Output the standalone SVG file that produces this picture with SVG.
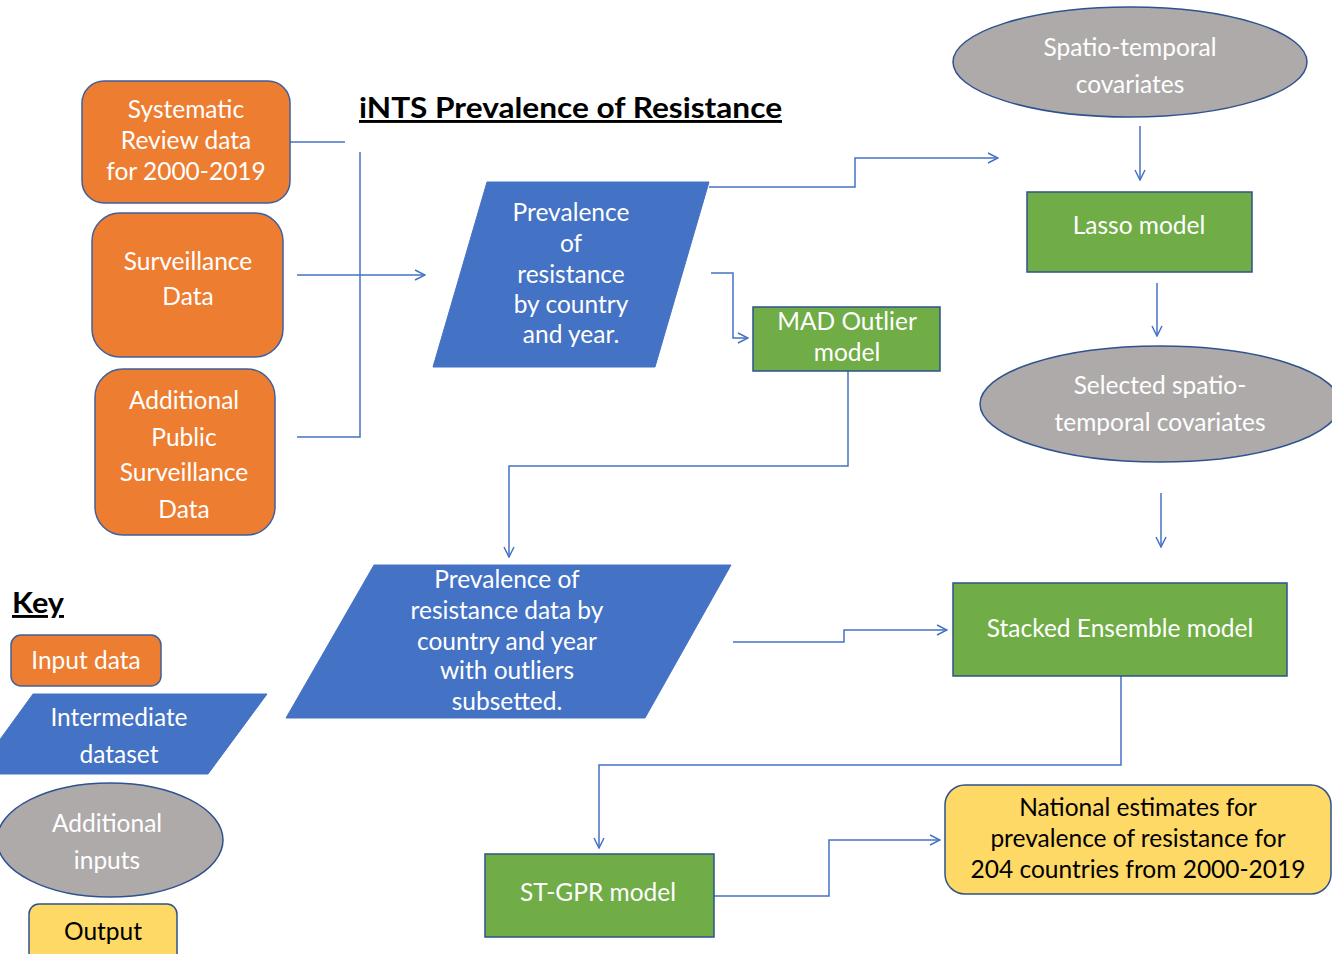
<svg xmlns="http://www.w3.org/2000/svg" width="1332" height="954" viewBox="0 0 1332 954">
<style>
text{font-family:Lato,"Open Sans","Liberation Sans",sans-serif;font-size:24.5px;text-anchor:middle;fill:#fff}
.dark{fill:#000}
.orange{fill:#ED7D31;stroke:#3F5F9F;stroke-width:1.5}
.blue{fill:#4472C4;stroke:#4472C4;stroke-width:1}
.green{fill:#70AD47;stroke:#2F528F;stroke-width:1.5}
.grey{fill:#AEAAAA;stroke:#2F528F;stroke-width:1.5}
.yellow{fill:#FFD966;stroke:#2F528F;stroke-width:1.5}
.c{fill:none;stroke:#4472C4;stroke-width:1.5}
.head{font-weight:bold;font-size:29px;text-anchor:start;fill:#000;text-decoration:underline}
</style>
<defs>
<marker id="arr" viewBox="0 0 12 12" refX="11" refY="6" markerWidth="12" markerHeight="12" markerUnits="userSpaceOnUse" orient="auto">
<path d="M1,1 L11,6 L1,11" fill="none" stroke="#4472C4" stroke-width="1.5"/>
</marker>
</defs>
<rect width="1332" height="954" fill="#fff"/>
<text class="head" x="359" y="118" textLength="423" lengthAdjust="spacingAndGlyphs">iNTS Prevalence of Resistance</text>
<text class="head" x="12" y="613" textLength="52" lengthAdjust="spacingAndGlyphs">Key</text>
<g id="connectors">
<path class="c" d="M290,142 H345"/>
<path class="c" d="M360,152 V437 H297"/>
<path class="c" d="M297,275 H425" marker-end="url(#arr)"/>
<path class="c" d="M709,187 H855 V158 H998" marker-end="url(#arr)"/>
<path class="c" d="M711,273 H733 V338 H748" marker-end="url(#arr)"/>
<path class="c" d="M848,371 V466 H509 V557" marker-end="url(#arr)"/>
<path class="c" d="M1140,126 V180" marker-end="url(#arr)"/>
<path class="c" d="M1157,283 V336" marker-end="url(#arr)"/>
<path class="c" d="M1161,493 V547" marker-end="url(#arr)"/>
<path class="c" d="M733,642 H844 V630 H947" marker-end="url(#arr)"/>
<path class="c" d="M1121,676 V765 H599 V848" marker-end="url(#arr)"/>
<path class="c" d="M714,896 H829 V840 H940" marker-end="url(#arr)"/>
</g>
<g id="systematic">
<rect class="orange" x="82" y="81" width="208" height="122" rx="22"/>
<text x="186" y="118">Systematic</text>
<text x="186" y="149">Review data</text>
<text x="186" y="180">for 2000-2019</text>
</g>
<g id="surveillance">
<rect class="orange" x="92" y="213" width="191" height="144" rx="28"/>
<text x="188" y="270">Surveillance</text>
<text x="188" y="305">Data</text>
</g>
<g id="additional-public">
<rect class="orange" x="95" y="369" width="180" height="166" rx="28"/>
<text x="184" y="409">Additional</text>
<text x="184" y="446">Public</text>
<text x="184" y="481">Surveillance</text>
<text x="184" y="518">Data</text>
</g>
<g id="prevalence">
<polygon class="blue" points="487,182 709,182 655,367 433,367"/>
<text x="571" y="221">Prevalence</text>
<text x="571" y="252">of</text>
<text x="571" y="283">resistance</text>
<text x="571" y="313">by country</text>
<text x="571" y="343">and year.</text>
</g>
<g id="mad">
<rect class="green" x="753" y="307" width="187" height="64"/>
<text x="847" y="330">MAD Outlier</text>
<text x="847" y="361">model</text>
</g>
<g id="spatio">
<ellipse class="grey" cx="1130" cy="62" rx="177" ry="55"/>
<text x="1130" y="56">Spatio-temporal</text>
<text x="1130" y="93">covariates</text>
</g>
<g id="lasso">
<rect class="green" x="1027" y="192" width="225" height="80"/>
<text x="1139" y="234">Lasso model</text>
</g>
<g id="selected">
<ellipse class="grey" cx="1160" cy="404" rx="180" ry="58"/>
<text x="1160" y="394">Selected spatio-</text>
<text x="1160" y="431">temporal covariates</text>
</g>
<g id="prevalence-subsetted">
<polygon class="blue" points="374,565 731,565 645,718 286,718"/>
<text x="507" y="588">Prevalence of</text>
<text x="507" y="619">resistance data by</text>
<text x="507" y="650">country and year</text>
<text x="507" y="679">with outliers</text>
<text x="507" y="710">subsetted.</text>
</g>
<g id="stacked">
<rect class="green" x="953" y="583" width="334" height="93"/>
<text x="1120" y="637">Stacked Ensemble model</text>
</g>
<g id="stgpr">
<rect class="green" x="485" y="854" width="229" height="83"/>
<text x="598" y="901">ST-GPR model</text>
</g>
<g id="national">
<rect class="yellow" x="945" y="785" width="386" height="109" rx="20"/>
<text class="dark" x="1138" y="816">National estimates for</text>
<text class="dark" x="1138" y="847">prevalence of resistance for</text>
<text class="dark" x="1138" y="878">204 countries from 2000-2019</text>
</g>
<g id="key-input">
<rect class="orange" x="11" y="635" width="150" height="51" rx="10"/>
<text x="86" y="669">Input data</text>
</g>
<g id="key-intermediate">
<polygon class="blue" points="33,694 267,694 208,774 -25,774"/>
<text x="119" y="726">Intermediate</text>
<text x="119" y="763">dataset</text>
</g>
<g id="key-additional">
<ellipse class="grey" cx="110" cy="840" rx="113" ry="57"/>
<text x="107" y="832">Additional</text>
<text x="107" y="869">inputs</text>
</g>
<g id="key-output">
<rect class="yellow" x="29" y="904" width="148" height="60" rx="10"/>
<text class="dark" x="103" y="940">Output</text>
</g>
</svg>
